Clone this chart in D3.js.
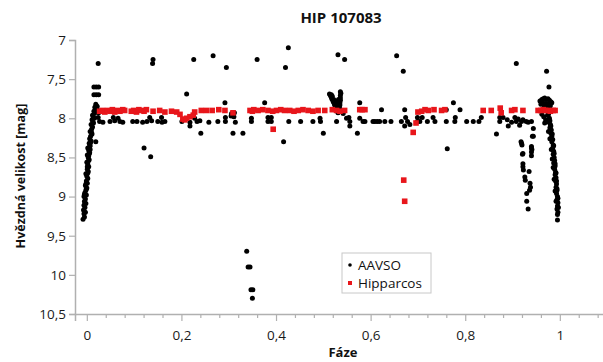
<!DOCTYPE html>
<html>
<head>
<meta charset="utf-8">
<script src="https://cdn.jsdelivr.net/npm/d3@7"></script>
<style>
  body { margin: 0; background: #fff; }
  text { font-family: "Open Sans", "Noto Sans", sans-serif; }
</style>
</head>
<body>
<div id="chart"></div>
<script>
// AAVSO observations [phase, magnitude]
var aavsoEgress = [
  [-0.008,9.29],[-0.005,9.26],[-0.006,9.22],[-0.003,9.20],[-0.007,9.17],[-0.004,9.14],[-0.006,9.11],[-0.002,9.09],
  [-0.005,9.06],[-0.003,9.03],[-0.006,9.00],[-0.001,8.98],[-0.004,8.95],[-0.002,8.92],[0.000,8.89],[-0.003,8.86],
  [0.001,8.83],[-0.001,8.80],[0.002,8.77],[0.000,8.74],[-0.002,8.71],[0.003,8.68],[0.001,8.65],[0.004,8.62],
  [0.002,8.59],[0.000,8.56],[0.005,8.53],[0.003,8.50],[0.001,8.47],[0.006,8.44],[0.004,8.41],[0.002,8.38],
  [0.007,8.35],[0.005,8.32],[0.009,8.29],[0.006,8.26],[0.008,8.23],[0.011,8.20],[0.007,8.17],[0.010,8.14],
  [0.012,8.11],[0.009,8.08],[0.013,8.05],[0.011,8.02],[0.014,7.99],[0.012,7.96],[0.016,7.94],[0.015,7.91],
  [0.018,7.88],[0.017,7.86],[0.020,7.84],[0.019,7.82],[0.022,7.85],[-0.004,9.08],[-0.001,8.90],[0.002,8.70],
  [0.003,8.55],[0.005,8.45],[0.006,8.36],[0.008,8.31],[0.010,8.18],[0.014,8.06],[0.016,8.00],[0.019,7.92],
  [0.021,7.88],[0.023,7.90],[0.025,7.93],[-0.005,8.97],[-0.002,8.84],[0.001,8.62],[0.004,8.48],[0.007,8.40],
  [0.019,8.30]
];

var aavsoBase = [
  [0.027,8.04],[0.034,8.05],[0.049,8.04],[0.059,8.03],[0.070,8.04],[0.076,8.05],[0.097,8.04],[0.106,8.04],
  [0.118,8.05],[0.127,8.04],[0.137,8.03],[0.150,8.04],[0.159,8.05],[0.165,8.04],[0.201,8.04],[0.218,8.05],
  [0.233,8.04],[0.239,8.03],[0.024,7.99],[0.056,7.99],[0.066,8.00],[0.133,7.99],[0.158,7.99],[0.228,8.00],
  [0.258,8.05],[0.277,8.04],[0.293,8.04],[0.314,8.05],[0.348,8.04],[0.383,8.04],[0.390,8.04],[0.427,8.04],
  [0.452,8.04],[0.478,8.04],[0.494,8.04],[0.528,8.04],[0.293,7.99],[0.305,7.97],[0.311,7.98],[0.348,8.00],
  [0.383,7.99],[0.390,7.99],[0.493,8.00],[0.306,7.94],[0.312,7.93],
  [0.549,8.00],[0.556,8.04],[0.577,8.00],[0.584,8.04],[0.588,8.04],[0.605,8.04],[0.609,8.04],[0.614,8.04],
  [0.619,8.04],[0.630,8.04],[0.643,8.04],[0.665,8.04],[0.674,7.99],[0.678,8.04],[0.699,8.04],[0.699,7.99],
  [0.704,8.04],[0.709,7.99],[0.720,8.04],[0.732,7.99],[0.736,8.04],[0.760,8.04],[0.778,8.04],[0.779,7.99],
  [0.554,7.99],[0.803,8.04],[0.817,8.04],[0.829,8.04],[0.834,7.99],[0.873,8.04],[0.873,7.99],[0.880,7.99],
  [0.889,8.02],[0.898,8.05],[0.905,7.99],[0.908,8.04],[0.912,8.01],[0.919,8.04],[0.922,8.02],[0.929,8.04],
  [0.933,8.05],[0.940,8.04]
];

var aavsoScatter = [
  [0.015,7.60],[0.020,7.60],[0.025,7.60],[0.015,7.70],[0.020,7.70],[0.025,7.70],[0.024,7.30],
  [0.140,7.25],[0.139,7.30],[0.226,7.25],[0.211,7.69],[0.121,8.38],[0.135,8.49],[0.241,8.19],[0.218,8.10],
  [0.267,7.20],[0.295,7.35],[0.360,7.25],[0.426,7.10],[0.420,7.35],[0.531,7.19],[0.292,7.80],[0.376,7.80],
  [0.309,8.19],[0.330,8.19],[0.500,8.19],[0.416,8.30],
  [0.338,9.70],[0.341,9.90],[0.345,9.90],[0.347,10.19],[0.351,10.19],[0.350,10.30],
  [0.545,7.25],[0.655,7.20],[0.669,7.40],[0.577,7.80],[0.775,7.80],[0.623,7.89],[0.672,7.89],[0.789,7.89],
  [0.760,7.89],[0.556,8.10],[0.672,8.10],[0.572,8.19],[0.762,8.39],[0.683,8.08],[0.542,7.94],
  [0.908,7.30],[0.972,7.40],[0.977,7.60],[0.866,8.20],[0.891,8.10],[0.915,8.09],[0.944,8.13]
];

var aavsoCluster = [
  [0.513,7.69],[0.515,7.71],[0.517,7.73],[0.518,7.75],[0.520,7.77],[0.521,7.79],[0.523,7.81],[0.524,7.83],
  [0.526,7.85],[0.527,7.87],[0.528,7.89],[0.530,7.91],[0.531,7.93],[0.533,7.92],[0.534,7.89],[0.534,7.86],
  [0.535,7.83],[0.535,7.80],[0.536,7.77],[0.536,7.74],[0.536,7.71],[0.537,7.68],[0.536,7.66],[0.517,7.70],
  [0.519,7.72],[0.522,7.76],[0.525,7.80],[0.529,7.84],[0.531,7.88],[0.533,7.80],[0.532,7.76],[0.530,7.79],
  [0.528,7.82]
];

var aavsoSecondary = [
  [0.918,8.30],[0.920,8.34],[0.942,8.23],[0.940,8.36],[0.941,8.40],[0.922,8.45],[0.940,8.48],[0.922,8.58],
  [0.919,8.32],[0.940,8.38],[0.940,8.43],[0.921,8.46],[0.922,8.62],[0.923,8.66],[0.935,8.68],[0.926,8.75],
  [0.927,8.79],[0.937,8.83],[0.938,8.88],[0.936,8.92],[0.930,8.96],[0.930,9.06],[0.933,9.16],[0.944,8.23]
];

var aavsoIngress = [
  [0.958,7.78],[0.962,7.76],[0.965,7.75],[0.968,7.74],[0.972,7.76],[0.975,7.75],[0.978,7.77],[0.981,7.79],
  [0.960,7.82],[0.964,7.80],[0.970,7.81],[0.976,7.82],[0.980,7.84],[0.983,7.80],[0.967,7.84],[0.973,7.85],
  [0.962,7.95],[0.966,7.98],[0.970,8.02],[0.974,7.96],[0.968,8.06],[0.972,8.04],
  [0.976,7.95],[0.978,8.00],[0.977,8.05],[0.980,8.08],[0.979,8.12],[0.982,8.15],[0.981,8.19],[0.983,8.23],
  [0.985,8.27],[0.983,8.30],[0.986,8.34],[0.985,8.38],[0.987,8.42],[0.986,8.46],[0.988,8.50],[0.989,8.54],
  [0.987,8.57],[0.990,8.61],[0.989,8.65],[0.991,8.69],[0.990,8.72],[0.992,8.76],[0.991,8.80],[0.993,8.84],
  [0.992,8.88],[0.994,8.92],[0.993,8.96],[0.995,9.00],[0.994,9.04],[0.996,9.08],[0.995,9.12],[0.994,9.16],
  [0.996,9.20],[0.995,9.23],[0.995,9.30],[0.979,8.03],[0.981,8.10],[0.984,8.20],[0.987,8.35],[0.988,8.45],
  [0.990,8.58],[0.992,8.70],[0.993,8.80],[0.994,8.90],[0.996,9.02],[0.997,9.14],[0.976,8.17],[0.979,8.26],
  [0.982,8.40],[0.984,8.52],[0.986,8.63],[0.988,8.78],[0.990,8.93],[0.992,9.06]
];

// Hipparcos observations [phase, magnitude]
var hipparcos = [
  [0.027,7.91],[0.033,7.90],[0.038,7.92],[0.044,7.90],[0.049,7.91],[0.054,7.89],[0.059,7.92],[0.065,7.90],
  [0.070,7.91],[0.076,7.89],[0.080,7.90],[0.094,7.91],[0.099,7.90],[0.105,7.92],[0.110,7.89],[0.116,7.90],
  [0.121,7.91],[0.126,7.89],[0.140,7.91],[0.154,7.90],[0.165,7.92],[0.179,7.91],[0.190,7.92],[0.197,7.95],
  [0.203,8.01],[0.207,8.02],[0.211,8.00],[0.218,7.98],[0.225,7.96],[0.228,7.92],[0.242,7.90],[0.253,7.90],
  [0.265,7.90],[0.279,7.89],[0.292,7.90],[0.309,7.93],[0.345,7.90],[0.350,7.91],[0.353,7.89],[0.362,7.90],
  [0.372,7.89],[0.383,7.90],[0.393,7.91],[0.394,8.14],[0.401,7.90],[0.410,7.89],[0.418,7.90],[0.429,7.90],
  [0.438,7.91],[0.447,7.90],[0.457,7.89],[0.468,7.90],[0.478,7.91],[0.489,7.90],[0.503,7.90],[0.519,7.89],
  [0.528,7.90],[0.535,7.91],[0.545,7.90],[0.577,7.89],[0.582,7.89],[0.588,7.89],[0.670,8.79],[0.672,9.06],
  [0.690,8.18],[0.696,8.06],[0.700,7.92],[0.708,7.91],[0.715,7.89],[0.722,7.90],[0.734,7.89],[0.750,7.90],
  [0.757,7.89],[0.838,7.90],[0.855,7.90],[0.874,7.87],[0.876,7.93],[0.898,7.90],[0.905,7.89],[0.922,7.90],
  [0.954,7.90],[0.960,7.90],[0.965,7.89],[0.970,7.90],[0.975,7.90],[0.980,7.91],[0.986,7.90],[0.990,7.90]
];

var xMajorTicks = [0, 0.2, 0.4, 0.6, 0.8, 1];
var xMinorTicks = [0.04, 0.08, 0.12, 0.16, 0.24, 0.28, 0.32, 0.36, 0.44, 0.48, 0.52, 0.56,
                   0.64, 0.68, 0.72, 0.76, 0.84, 0.88, 0.92, 0.96, 1.04, 1.08];
var yTicks = [7, 7.5, 8, 8.5, 9, 9.5, 10, 10.5];

var aavso = aavsoEgress.concat(aavsoBase, aavsoScatter, aavsoCluster, aavsoSecondary, aavsoIngress);

var width = 603, height = 362;
var margin = { top: 40, left: 75, bottom: 48 };

var svg = d3.select("#chart")
    .append("svg")
    .attr("width", width)
    .attr("height", height);

var x = d3.scaleLinear()
    .domain([-0.025, 1.1])
    .range([margin.left, margin.left + 1.125 * 473]);

var y = d3.scaleLinear()
    .domain([7, 10.5])
    .range([margin.top, height - margin.bottom]);

var comma = function (d) { return String(d).replace(".", ","); };
var axisColor = "#b0b0b0";

// x axis: minor + major ticks
var xMinor = svg.append("g")
    .attr("transform", "translate(0," + y(10.5) + ")")
    .call(d3.axisBottom(x).tickValues(xMinorTicks).tickSize(4).tickFormat(""));
var xMajor = svg.append("g")
    .attr("transform", "translate(0," + y(10.5) + ")")
    .call(d3.axisBottom(x).tickValues(xMajorTicks).tickSize(7).tickPadding(9).tickFormat(comma));

var yAxis = svg.append("g")
    .attr("transform", "translate(" + margin.left + ",0)")
    .call(d3.axisLeft(y).tickValues(yTicks).tickSize(6).tickPadding(3).tickFormat(comma));

[xMinor, xMajor, yAxis].forEach(function (g) {
    g.select(".domain").attr("stroke", axisColor).attr("stroke-width", 1.5);
    g.selectAll(".tick line").attr("stroke", axisColor).attr("stroke-width", 1.2);
    g.selectAll(".tick text")
        .attr("fill", "#1a1a1a")
        .style("font-size", "13.5px")
        .style("font-family", "'Open Sans', 'Noto Sans', sans-serif");
});
xMinor.select(".domain").remove();

svg.append("g")
    .selectAll("circle")
    .data(aavso)
    .enter()
    .append("circle")
    .attr("cx", function (d) { return x(d[0]); })
    .attr("cy", function (d) { return y(d[1]); })
    .attr("r", 2.5)
    .attr("fill", "#000");

svg.append("g")
    .selectAll("rect")
    .data(hipparcos)
    .enter()
    .append("rect")
    .attr("x", function (d) { return x(d[0]) - 2.8; })
    .attr("y", function (d) { return y(d[1]) - 2.8; })
    .attr("width", 5.6)
    .attr("height", 5.6)
    .attr("fill", "#e8161b");

// titles
svg.append("text")
    .attr("x", 341)
    .attr("y", 23)
    .attr("text-anchor", "middle")
    .attr("font-weight", "bold")
    .style("font-size", "15px")
    .attr("fill", "#111")
    .text("HIP 107083");

svg.append("text")
    .attr("x", 343)
    .attr("y", 357)
    .attr("text-anchor", "middle")
    .attr("font-weight", "bold")
    .style("font-size", "13px")
    .attr("fill", "#111")
    .text("Fáze");

svg.append("text")
    .attr("transform", "translate(25,176) rotate(-90)")
    .attr("text-anchor", "middle")
    .attr("font-weight", "bold")
    .style("font-size", "12.5px")
    .attr("fill", "#111")
    .text("Hvězdná velikost [mag]");

// legend
var legend = svg.append("g").attr("transform", "translate(342,253)");
legend.append("rect")
    .attr("width", 89)
    .attr("height", 40)
    .attr("fill", "#fff")
    .attr("stroke", "#c8c8c8");
legend.append("circle").attr("cx", 8).attr("cy", 12).attr("r", 1.8).attr("fill", "#000");
legend.append("rect").attr("x", 6).attr("y", 28).attr("width", 4).attr("height", 4).attr("fill", "#e8161b");
legend.append("text").attr("x", 16).attr("y", 17).style("font-size", "13.5px").attr("fill", "#111").text("AAVSO");
legend.append("text").attr("x", 16).attr("y", 35).style("font-size", "13.5px").attr("fill", "#111").text("Hipparcos");
</script>
</body>
</html>
